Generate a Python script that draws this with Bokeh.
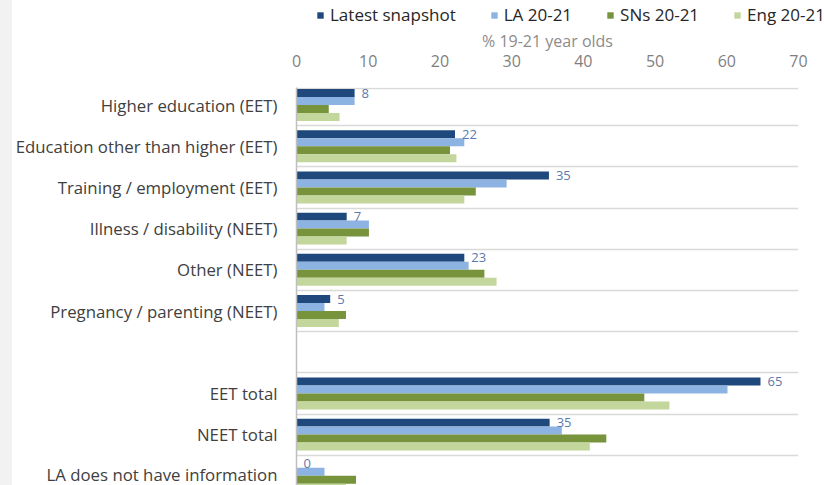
from bokeh.plotting import figure
from bokeh.models import ColumnDataSource, Range1d, FixedTicker, Legend, LegendItem, Div
from bokeh.layouts import row, column
from bokeh.core.properties import value
from bokeh.embed import file_html
from bokeh.resources import INLINE

categories = ["Higher education (EET)", "Education other than higher (EET)",
              "Training / employment (EET)", "Illness / disability (NEET)",
              "Other (NEET)", "Pregnancy / parenting (NEET)", "",
              "EET total", "NEET total", "LA does not have information"]
latest = [8.1, 22.1, 35.2, 7.0, 23.4, 4.7, None, 64.7, 35.3, 0.0]
la_2021 = [8.1, 23.4, 29.3, 10.1, 24.0, 3.9, None, 60.1, 37.0, 3.9]
sns_2021 = [4.5, 21.4, 25.0, 10.1, 26.2, 6.9, None, 48.5, 43.2, 8.3]
eng_2021 = [6.0, 22.3, 23.4, 7.0, 27.9, 5.9, None, 52.0, 40.9, 6.9]
series_names = ["Latest snapshot", "LA 20-21", "SNs 20-21", "Eng 20-21"]
x_ticks = [0, 10, 20, 30, 40, 50, 60, 70]
x_title = "% 19-21 year olds"

colors = ["#1f497d", "#8db3e2", "#77933c", "#c3d69b"]
FONT = "Open Sans"

n = len(categories)
LEG_H = 26
y_top = 0.075
y_bot = 9.735

strip = Div(text="", width=12, height=485, margin=0,
            styles={"background-color": "#f2f2f2"})

# legend strip (its own small figure)
lf = figure(width=812, height=LEG_H, output_backend="svg", toolbar_location=None,
            x_range=Range1d(0, 1), y_range=Range1d(0, 1),
            min_border_left=0, min_border_right=0, min_border_top=0,
            min_border_bottom=0, margin=0)
if "frame_align" in lf.properties():
    lf.frame_align = False
lf.axis.visible = False
lf.grid.visible = False
lf.outline_line_color = None
leg_renderers = []
for col in colors:
    # legend swatches only: the bar itself lies outside this strip's range
    r = lf.hbar(y=[5], right=[6], left=5, height=0.5, fill_color=col, line_color=None)
    leg_renderers.append(r)
legend = Legend(items=[LegendItem(label=nm, renderers=[r]) for nm, r in zip(series_names, leg_renderers)],
                orientation="horizontal", location=(304, 0),
                glyph_width=8, glyph_height=8, label_standoff=6, spacing=34,
                padding=0, margin=0, border_line_color=None,
                background_fill_alpha=0,
                label_text_font=FONT, label_text_font_size="17px",
                label_text_color="#262626")
lf.add_layout(legend, "center")

p = figure(width=812, height=485 - LEG_H, output_backend="svg", toolbar_location=None,
           x_range=Range1d(0, 70), y_range=Range1d(y_bot, y_top),
           x_axis_location="above", min_border_left=284, min_border_right=26,
           min_border_top=87 - LEG_H, min_border_bottom=0, margin=0)
p.outline_line_color = None
p.background_fill_color = "white"
p.border_fill_color = "white"

bar_h = 0.194
offsets = [-0.291, -0.097, 0.097, 0.291]
all_series = [latest, la_2021, sns_2021, eng_2021]
for vals, off, col in zip(all_series, offsets, colors):
    ys = [i + 0.5 + off for i, v in enumerate(vals) if v is not None]
    xs = [v for v in vals if v is not None]
    src = ColumnDataSource(dict(y=ys, right=xs))
    p.hbar(y="y", right="right", left=0, height=bar_h, source=src,
           fill_color=col, line_color=None)

# data labels for latest snapshot
lab_y = [i + 0.5 + offsets[0] for i, v in enumerate(latest) if v is not None]
lab_x = [v for v in latest if v is not None]
lab_t = [str(int(round(v))) for v in lab_x]
p.text(x=lab_x, y=lab_y, text=lab_t, x_offset=7, text_align="left",
       text_baseline="middle", text_font=value(FONT), text_font_size="13px",
       text_color="#5a7aad")

# x axis (above)
xa = p.xaxis[0]
xa.ticker = FixedTicker(ticks=x_ticks)
xa.axis_line_color = None
xa.major_tick_line_color = None
xa.minor_tick_line_color = None
xa.major_label_standoff = 15
xa.major_label_text_font = FONT
xa.major_label_text_font_size = "16px"
xa.major_label_text_color = "#7f7f7f"
xa.axis_label = x_title
xa.axis_label_text_font = FONT
xa.axis_label_text_font_size = "16px"
xa.axis_label_text_font_style = "normal"
xa.axis_label_text_color = "#8c8c8c"
xa.axis_label_standoff = 0

# y axis (categories)
ya = p.yaxis[0]
ticks = [i + 0.5 for i, c in enumerate(categories) if c]
ya.ticker = FixedTicker(ticks=ticks)
ya.major_label_overrides = {i + 0.5: c for i, c in enumerate(categories) if c}
ya.axis_line_color = "#bfbfbf"
ya.axis_line_width = 1.5
ya.major_tick_line_color = None
ya.minor_tick_line_color = None
ya.major_label_standoff = 13
ya.major_label_text_font = FONT
ya.major_label_text_font_size = "16.8px"
ya.major_label_text_color = "#404040"

p.xgrid.grid_line_color = None
p.ygrid.ticker = FixedTicker(ticks=[0.1] + list(range(1, n)))
p.ygrid.grid_line_color = "#d9d9d9"
p.ygrid.grid_line_width = 1.5

layout = row(strip, column(lf, p, spacing=0, margin=0), spacing=0, margin=0)
open("out.html", "w").write(file_html(layout, INLINE))
